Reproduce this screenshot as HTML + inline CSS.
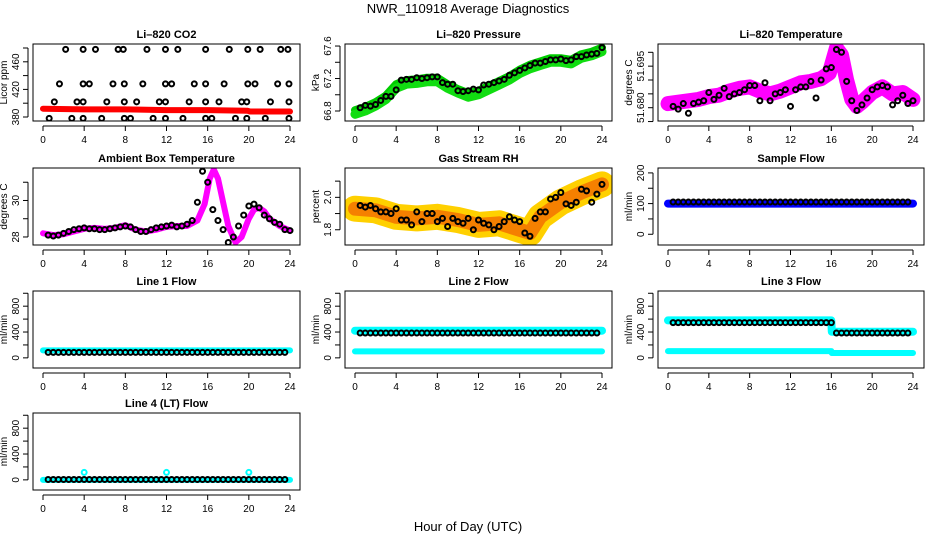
<!DOCTYPE html>
<html><head><meta charset="utf-8">
<style>
html,body{margin:0;padding:0;background:#fff;}
svg{display:block;font-family:"Liberation Sans",sans-serif;}
.t{font-size:11px;font-weight:bold;text-anchor:middle;}
.tk{font-size:10px;text-anchor:middle;}
</style></head>
<body>
<svg id="c" width="936" height="540" viewBox="0 0 936 540">
<text x="468" y="13" style="font-size:13px;text-anchor:middle">NWR_110918  Average Diagnostics</text>
<text x="468" y="531" style="font-size:13px;text-anchor:middle">Hour of Day (UTC)</text>
</svg>
<script>
const xTicks = [0,4,8,12,16,20,24];
const circHours = [0.5,1,1.5,2,2.5,3,3.5,4,4.5,5,5.5,6,6.5,7,7.5,8,8.5,9,9.5,10,10.5,11,11.5,12,12.5,13,13.5,14,14.5,15,15.5,16,16.5,17,17.5,18,18.5,19,19.5,20,20.5,21,21.5,22,22.5,23,23.5,24];

// CO2
const co2BandHours = [0,4,8,12,16,19.9,20.1,24];
const co2BandVals = [392,391,391,390,390,389,388,388];
const co2CircHours = [2.2,3.9,5.1,7.3,7.8,10.1,11.9,13.1,15.8,18.1,19.9,21.1,23.1,23.8,1.6,3.9,4.5,6.8,7.9,9.7,11.9,12.5,14.7,15.8,17.6,19.9,20.6,22.8,23.9,1.1,3.3,3.9,6.2,7.9,9.1,11.3,11.9,14.2,15.8,17.1,19.3,19.8,22.1,23.9,0.6,2.8,3.9,5.7,7.9,8.5,10.7,11.9,13.6,15.8,16.4,18.7,19.8,21.6,23.9];
const co2CircVals = [478,478,478,478,478,478,478,478,478,478,478,478,478,478,428,428,428,428,428,428,428,428,428,428,428,428,428,428,428,402,402,402,402,402,402,402,402,402,402,402,402,402,402,402,378,378,378,378,378,378,378,378,378,378,378,378,378,378,378];

// Pressure
const presBandHours = [0,1,2,3,4,5,6,7,8,9,10,11,12,13,14,15,16,17,18,19,20,21,22,23,24];
const presBandVals = [66.76,66.8,66.86,66.94,67.08,67.13,67.14,67.16,67.16,67.08,67.02,66.97,67.0,67.06,67.12,67.18,67.26,67.32,67.36,67.4,67.4,67.38,67.45,67.48,67.53];
const presCircVals = [66.84,66.87,66.86,66.88,66.93,66.98,66.98,67.06,67.18,67.19,67.19,67.21,67.2,67.21,67.22,67.22,67.15,67.13,67.13,67.05,67.04,67.05,67.07,67.06,67.12,67.13,67.15,67.17,67.19,67.24,67.27,67.3,67.33,67.36,67.39,67.39,67.41,67.43,67.43,67.44,67.42,67.43,67.47,67.47,67.49,67.5,67.51,67.58];

// Li-820 temperature
const ltBandHours = [0,1,2,3,4,5,6,7,8,9,10,11,12,13,14,15,15.8,16.5,17,17.5,18,18.5,19,20,21,22,23,24];
const ltBandVals = [51.6815,51.682,51.6825,51.683,51.684,51.6845,51.686,51.687,51.6875,51.686,51.685,51.686,51.6875,51.689,51.6895,51.6905,51.6925,51.7015,51.699,51.690,51.683,51.6805,51.682,51.6855,51.6875,51.685,51.6855,51.683];
const ltCircVals = [51.6805,51.6795,51.6815,51.678,51.6815,51.682,51.6825,51.6855,51.683,51.6845,51.687,51.684,51.685,51.6855,51.6865,51.688,51.688,51.6825,51.689,51.6825,51.685,51.6855,51.6865,51.6805,51.6865,51.6875,51.6875,51.6895,51.6835,51.690,51.694,51.6945,51.701,51.700,51.6895,51.6825,51.679,51.681,51.6835,51.6865,51.6875,51.688,51.6875,51.681,51.6825,51.6845,51.6815,51.6825];

// Ambient box temperature
const abBandHours = [0,1,2,3,4,5,6,7,8,9,10,11,12,13,14,15,15.7,16.2,16.6,17,17.5,18,18.7,19.3,20,20.5,21,21.5,22,23,24];
const abBandVals = [28.2,28.1,28.15,28.3,28.45,28.5,28.45,28.5,28.65,28.4,28.3,28.4,28.55,28.6,28.6,28.9,29.8,31.2,31.7,31.2,29.9,28.6,27.7,28.0,29.0,29.5,29.6,29.4,29.0,28.6,28.35];
const abCircVals = [28.1,28.05,28.1,28.2,28.3,28.4,28.45,28.5,28.45,28.45,28.4,28.4,28.45,28.5,28.55,28.6,28.55,28.4,28.3,28.3,28.4,28.5,28.55,28.6,28.65,28.55,28.6,28.7,28.9,29.9,31.6,31.0,29.5,28.9,28.4,27.7,28.0,28.6,29.2,29.7,29.8,29.6,29.2,29.0,28.8,28.7,28.4,28.35];

// Gas stream RH
const rhBandHours = [0,2,4,6,8,10,12,14,16,17,18,20,22,24];
const rhBandVals = [1.93,1.92,1.88,1.87,1.88,1.86,1.83,1.84,1.80,1.78,1.88,1.97,2.03,2.08];
const rhCircVals = [1.95,1.94,1.95,1.93,1.91,1.91,1.9,1.93,1.86,1.86,1.83,1.91,1.85,1.9,1.9,1.85,1.87,1.82,1.87,1.85,1.84,1.87,1.8,1.86,1.84,1.83,1.8,1.82,1.85,1.88,1.86,1.85,1.78,1.76,1.87,1.91,1.91,1.99,2.0,2.03,1.96,1.95,1.97,2.05,2.04,1.97,2.02,2.08];

// Flows
const flowBandHours = [0,16,16.05,24];
const sampleBandVals = [100,100,100,100];
const sampleCircVals = 105;
const line1BandVals = [115,115,115,115];
const line1Circ = 85;
const line2UpperVals = [420,420,420,420];
const line2LowerVals = [100,100,100,100];
const line2Circ = 385;
const line3UpperVals = [580,580,405,405];
const line3LowerVals = [105,105,75,75];
const line3CircBefore = 545;
const line3CircAfter = 385;
const line4BandVals = [0,0,0,0];
const line4Circ = 5;
const line4SpikeHours = [4,12,20];
const line4SpikeVals = [115,115,115];

const NS = 'http://www.w3.org/2000/svg';
const svg = document.getElementById('c');
function mk(tag, attrs, parent){
  const e = document.createElementNS(NS, tag);
  for (const k in attrs) e.setAttribute(k, attrs[k]);
  (parent||svg).appendChild(e);
  return e;
}
const cols = [{bx:33,bw:267,x0:43,x1:290},{bx:345,bw:267,x0:355,x1:602},{bx:658,bw:266,x0:668,x1:913}];
const rowsTop = [44,168,291,413];
const BH = 77;

function panel(name, title, col, row, yr, yticks, ylabels, ytitle){
  const c = cols[col], top = rowsTop[row];
  const g = mk('g', {});
  
  
  const xs = h => c.x0 + (c.x1 - c.x0) * h / 24;
  const ys = v => top + BH - (v - yr[0]) / (yr[1] - yr[0]) * BH;
  const clip = 'clip-' + name;
  const cp = mk('clipPath', {id: clip}, g);
  mk('rect', {x:c.bx, y:top, width:c.bw, height:BH}, cp);
  const plot = mk('g', {'clip-path':'url(#'+clip+')'}, g);
  const tt = mk('text', {x:c.bx + c.bw/2, y:top-6, class:'t'}, g);
  tt.textContent = title;
  
  
  const box = mk('rect', {x:c.bx, y:top, width:c.bw, height:BH, fill:'none', stroke:'#000', 'stroke-width':1}, g);
  
  
  const xa = mk('g', {}, g);
  
  
  mk('line', {x1:xs(0), x2:xs(24), y1:top+BH+5, y2:top+BH+5, stroke:'#000'}, xa);
  xTicks.forEach(t => {
    mk('line', {x1:xs(t), x2:xs(t), y1:top+BH+5, y2:top+BH+10, stroke:'#000'}, xa);
    const l = mk('text', {x:xs(t), y:top+BH+22, class:'tk'}, xa);
    l.textContent = t;
  });
  const ya = mk('g', {}, g);
  
  
  mk('line', {x1:c.bx-5, x2:c.bx-5, y1:ys(yticks[0]), y2:ys(yticks[yticks.length-1]), stroke:'#000'}, ya);
  yticks.forEach(t => mk('line', {x1:c.bx-10, x2:c.bx-5, y1:ys(t), y2:ys(t), stroke:'#000'}, ya));
  ylabels.forEach(t => {
    const l = mk('text', {x:0, y:0, class:'tk', transform:'translate('+(c.bx-14)+','+ys(t)+') rotate(-90)'}, ya);
    l.textContent = typeof t === 'number' ? String(t) : t;
  });
  const yt = mk('text', {x:0, y:0, class:'tk', transform:'translate('+(c.bx-26)+','+(top+BH/2)+') rotate(-90)'}, g);
  yt.textContent = ytitle;
  
  
  return {plot, xs, ys};
}
function band(p, name, hours, vals, color, w){
  const pts = hours.map((h,i) => p.xs(h).toFixed(1)+','+p.ys(vals[i]).toFixed(1)).join(' ');
  const e = mk('polyline', {points:pts, fill:'none', stroke:color, 'stroke-width':w, 'stroke-linejoin':'round', 'stroke-linecap':'round'}, p.plot);
  
  
}
function circles(p, name, hours, vals, color){
  const g = mk('g', {}, p.plot);
  
  
  hours.forEach((h,i) => {
    const v = Array.isArray(vals) ? vals[i] : vals;
    const e = mk('circle', {cx:p.xs(h), cy:p.ys(v), r:2.5, fill:'none', stroke:color||'#000', 'stroke-width':2}, g);
    
    
  });
}

// Row 1
let p = panel('co2-panel','Li\u2013820 CO2',0,0,[374.2,485.8],[380,400,420,440,460,480],[380,420,460],'Licor ppm');
band(p,'co2-band',co2BandHours,co2BandVals,'#f00',6);
circles(p,'co2-hourly',co2CircHours,co2CircVals);

p = panel('pressure-panel','Li\u2013820 Pressure',1,0,[66.677,67.625],[66.8,67.0,67.2,67.4,67.6],['66.8','67.2','67.6'],'kPa');
band(p,'pressure-band-upper',presBandHours,presBandVals.map(v=>v+0.05),'#0c0',8);
band(p,'pressure-band-lower',presBandHours,presBandVals,'#1d1',9);
circles(p,'pressure-hourly',circHours,presCircVals);

p = panel('li820-temp-panel','Li\u2013820 Temperature',2,0,[51.6752,51.703],[51.675,51.680,51.685,51.690,51.695,51.700],['51.680','51.695'],'degrees C');
band(p,'li820-temp-band',ltBandHours,ltBandVals,'#f0f',15);
circles(p,'li820-temp-hourly',circHours,ltCircVals);

// Row 2
p = panel('ambient-panel','Ambient Box Temperature',0,1,[27.56,31.78],[28,29,30,31],[28,30],'degrees C');
band(p,'ambient-band',abBandHours,abBandVals,'#f0f',6);
circles(p,'ambient-hourly',circHours,abCircVals);

p = panel('rh-panel','Gas Stream RH',1,1,[1.706,2.181],[1.8,1.9,2.0,2.1],['1.8','2.0'],'percent');
band(p,'rh-band-outer',rhBandHours,rhBandVals,'#ffd000',26);
band(p,'rh-band-inner',rhBandHours,rhBandVals,'#f58000',14);
circles(p,'rh-hourly',circHours,rhCircVals);

p = panel('sample-flow-panel','Sample Flow',2,1,[-35,216],[0,50,100,150,200],[0,100,200],'ml/min');
band(p,'sample-flow-band',flowBandHours,sampleBandVals,'#00f',8);
circles(p,'sample-flow-hourly',circHours.slice(0,47),sampleCircVals);

// Row 3
p = panel('line1-flow-panel','Line 1 Flow',0,2,[-157,1035],[0,200,400,600,800,1000],[0,400,800],'ml/min');
band(p,'line1-flow-band',flowBandHours,line1BandVals,'#0ff',6);
circles(p,'line1-flow-hourly',circHours.slice(0,47),line1Circ);

p = panel('line2-flow-panel','Line 2 Flow',1,2,[-157,1035],[0,200,400,600,800,1000],[0,400,800],'ml/min');
band(p,'line2-flow-upper',flowBandHours,line2UpperVals,'#0ff',8);
band(p,'line2-flow-lower',flowBandHours,line2LowerVals,'#0ff',6);
circles(p,'line2-flow-hourly',circHours.slice(0,47),line2Circ);

p = panel('line3-flow-panel','Line 3 Flow',2,2,[-157,1035],[0,200,400,600,800,1000],[0,400,800],'ml/min');
band(p,'line3-flow-upper',flowBandHours,line3UpperVals,'#0ff',8);
band(p,'line3-flow-lower',flowBandHours,line3LowerVals,'#0ff',6);
circles(p,'line3-flow-hourly-a',circHours.slice(0,32),line3CircBefore);
circles(p,'line3-flow-hourly-b',circHours.slice(32,47),line3CircAfter);

// Row 4
p = panel('line4-flow-panel','Line 4 (LT) Flow',0,3,[-157,1035],[0,200,400,600,800,1000],[0,400,800],'ml/min');
band(p,'line4-flow-band',flowBandHours,line4BandVals,'#0ff',6);
circles(p,'line4-flow-hourly',circHours.slice(0,47),line4Circ);
circles(p,'line4-flow-spikes',line4SpikeHours,line4SpikeVals,'#0ff');
</script>
</body></html>
